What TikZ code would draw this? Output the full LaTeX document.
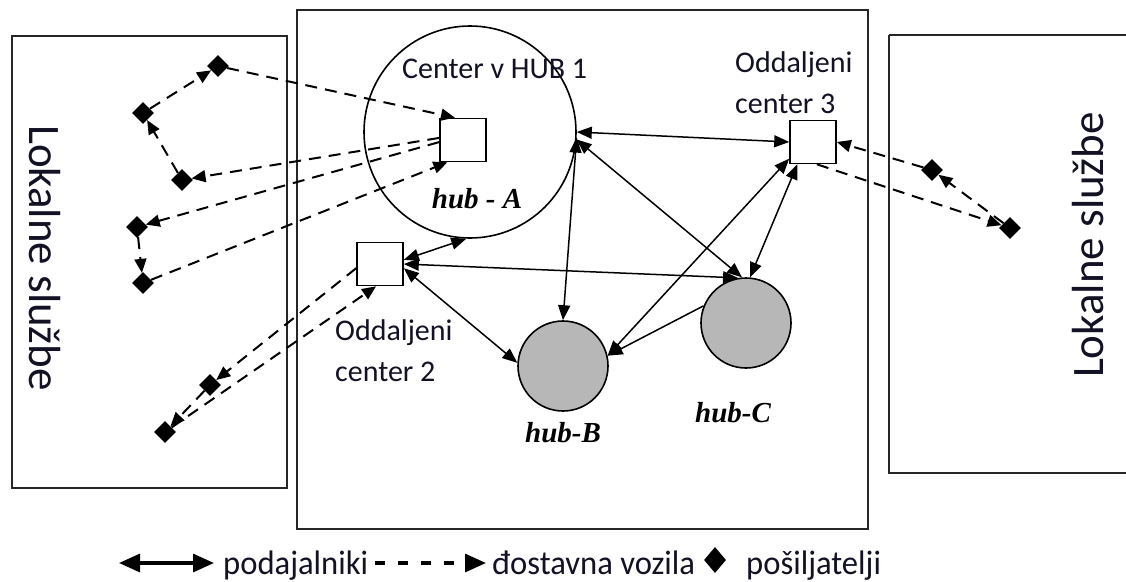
\documentclass[tikz,border=0pt]{standalone}
\usepackage{fontspec}
\setmainfont{Carlito}
\newfontfamily\hubfont{Liberation Serif}
\usetikzlibrary{arrows.meta,shapes.geometric,calc}
\definecolor{hubgray}{RGB}{183,183,183}
\definecolor{ink}{RGB}{18,18,36}

\begin{document}
\begin{tikzpicture}[x=1pt,y=-1pt,
  frame/.style={draw=black!85,line width=2.2pt},
  sqbox/.style={draw,fill=white,line width=1.6pt,minimum width=46pt,minimum height=43pt,inner sep=0pt},
  hubwhite/.style={circle,draw,line width=1.6pt,fill=white,inner sep=0pt,minimum size=212pt},
  hubgrey/.style={circle,draw,line width=1.6pt,fill=hubgray,inner sep=0pt,minimum size=90pt},
  shipper/.style={diamond,fill=black,inner sep=0pt,minimum width=22pt,minimum height=22pt},
  lbl/.style={text=ink,inner sep=0pt,font=\fontsize{30}{41}\selectfont},
  side/.style={text=ink,inner sep=0pt,font=\fontsize{45}{45}\selectfont},
  hublbl/.style={inner sep=0pt,font=\hubfont\bfseries\itshape\fontsize{29}{29}\selectfont},
  leg/.style={text=ink,inner sep=0pt,font=\fontsize{34}{34}\selectfont},
  legboth/.style={{Triangle[length=21pt,width=18pt]}-{Triangle[length=21pt,width=18pt]},line width=3.2pt},
  legone/.style={-{Triangle[length=21pt,width=18pt]},line width=3.2pt,dash pattern=on 10pt off 13pt},
  feeder/.style={{Triangle[length=15pt,width=12pt]}-{Triangle[length=15pt,width=12pt]},line width=1.5pt},
  feederone/.style={-{Triangle[length=15pt,width=12pt]},line width=1.5pt},
  route/.style={-{Triangle[length=14pt,width=12pt]},line width=2pt,dash pattern=on 12pt off 8pt}
]
\useasboundingbox (0,0) rectangle (1126,581);
\fill[white] (0,0) rectangle (1126,581);

% outer frames
\draw[frame] (12,36) rectangle (287,488);
\draw[frame,line width=2.8pt] (297,10) rectangle (868,529);
\draw[frame] (889,35) -- (1130,35);
\draw[frame] (1130,473) -- (889,473) -- (889,35);

% side labels
\node[side,rotate=-90,anchor=base] (locL) at (29,258) {Lokalne službe};
\node[side,rotate=90,anchor=base] (locR) at (1103,245) {Lokalne službe};

% hubs
\node[hubwhite] (hubA) at (470,132) {};
\node[hubgrey] (hubB) at (563,366) {};
\node[hubgrey] (hubC) at (746,323) {};

% terminals
\node[sqbox] (sqA) at (463,140) {};
\node[sqbox] (sq2) at (380,264) {};
\node[sqbox] (sq3) at (813,142) {};

% text labels
\node[lbl,anchor=base west] (tA) at (402,78) {Center v HUB 1};
\node[lbl,anchor=north west,align=left] (t3) at (735,51) {Oddaljeni\\center 3};
\node[lbl,anchor=north west,align=left] (t2) at (335,319) {Oddaljeni\\center 2};
\node[hublbl,anchor=base] (hA) at (477,208) {hub - A};
\node[hublbl,anchor=base] (hB) at (563,442) {hub-B};
\node[hublbl,anchor=base] (hC) at (733,422) {hub-C};

% feeder links between hubs and remote centers
\draw[feeder] (hubA.0) -- (sq3.west);
\draw[feeder] (hubA.-4) -- (hubC.95);
\draw[feeder] (hubA.-3) -- (hubB.90);
\draw[feeder] (sq3.215) -- (hubB.13);
\draw[feeder] (sq3.235) -- (hubC.85);
\draw[feederone] (hubC.158) -- (hubB.13);
\draw[feeder] (sq2.10) -- (hubA.268);
\draw[feeder] (sq2.east) -- (hubC.100);
\draw[feeder] (sq2.-10) -- (hubB.176);

% shippers
\node[shipper] (d1) at (218,66) {};
\node[shipper] (d2) at (143,113) {};
\node[shipper] (d3) at (182,180) {};
\node[shipper] (d4) at (137,227) {};
\node[shipper] (d5) at (143,283) {};
\node[shipper] (d6) at (210,385) {};
\node[shipper] (d7) at (165,432) {};
\node[shipper] (d8) at (932,170) {};
\node[shipper] (d9) at (1010,228) {};

% delivery vehicle tours
\draw[route] (d1) -- (sqA.110);
\draw[route] (d2) -- (d1);
\draw[route] (d3) -- (d2);
\draw[route] (sqA.175) -- (d3);
\draw[route] (sqA.185) -- (d4);
\draw[route] (d4) -- (d5);
\draw[route] (d5) -- (sqA.235);
\draw[route] (sq2.190) -- (d6);
\draw[route] (d6) -- (d7);
\draw[route] (d7) -- (sq2.260);
\draw[route] (sq3.280) -- (d9);
\draw[route] (d9) -- (d8);
\draw[route] (d8) -- (sq3.east);

% legend
\coordinate (lgA1) at (119,563);
\coordinate (lgA2) at (214,563);
\coordinate (lgB1) at (375,563);
\coordinate (lgB2) at (486,563);
\draw[legboth] (lgA1) -- (lgA2);
\node[leg,anchor=base west] (lg1) at (223,574) {\scalebox{0.96}[1]{podajalniki}};
\draw[legone] (lgB1) -- (lgB2);
\node[leg,anchor=base west] (lg2) at (492,574) {\scalebox{0.96}[1]{đostavna vozila}};
\node[diamond,fill=black,inner sep=0pt,minimum width=22pt,minimum height=26pt] (lgD) at (715,560) {};
\node[leg,anchor=base west] (lg3) at (746,574) {\scalebox{0.96}[1]{pošiljatelji}};
\end{tikzpicture}
\end{document}
